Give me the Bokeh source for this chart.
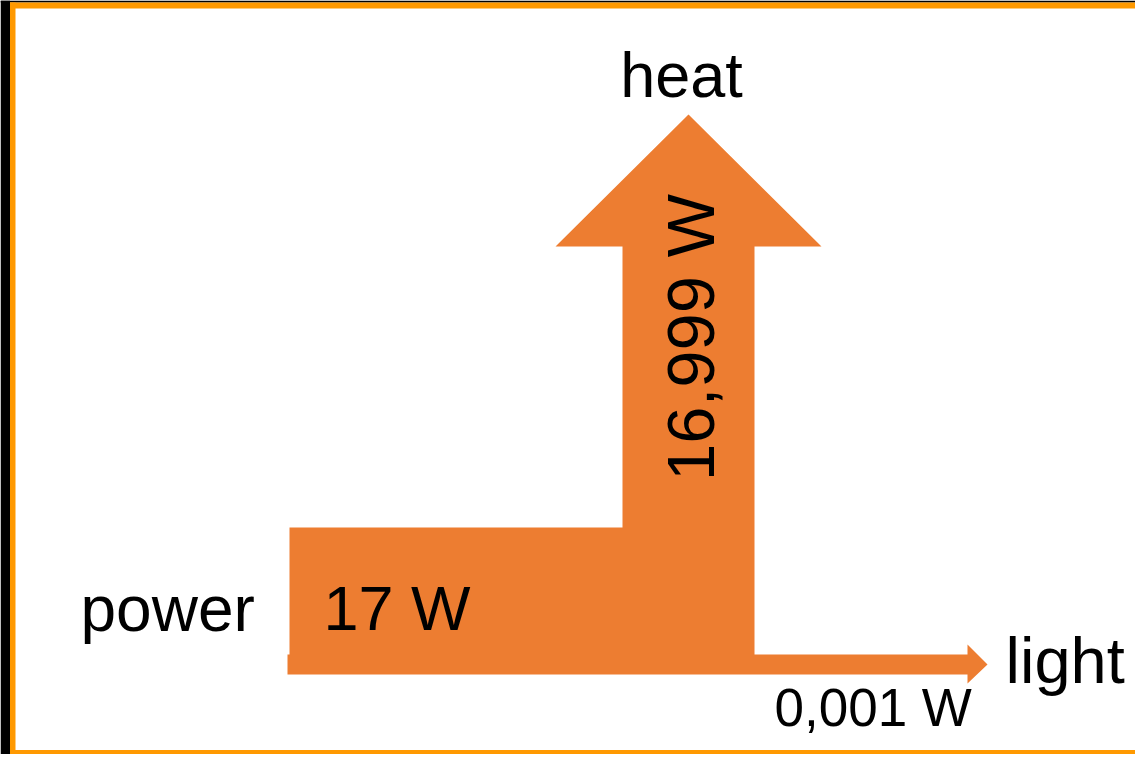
from math import pi
from bokeh.plotting import figure
from bokeh.models import Range1d, ColumnDataSource
from bokeh.core.properties import value
from bokeh.embed import file_html
from bokeh.resources import INLINE

# ---- data ----
nodes = ["power", "heat", "light"]
flow_labels = ["17 W", "16,999 W", "0,001 W"]
flow_watts = [17, 16.999, 0.001]

# ---- layout (reference pixel coordinates) ----
W, H = 1135, 754


def Y(py):
    return H - py


p = figure(width=W, height=H, x_range=Range1d(0, W), y_range=Range1d(0, H),
           output_backend="svg", toolbar_location=None, min_border=0,
           x_axis_location=None, y_axis_location=None)
p.grid.visible = False
p.outline_line_color = None
p.background_fill_color = "white"
p.border_fill_color = "white"

# frame decoration
p.quad(left=[0], right=[9.5], bottom=[0], top=[H], fill_color="black", line_color=None)
p.quad(left=[0], right=[W], bottom=[Y(2)], top=[H], fill_color="black", line_color=None)
p.quad(left=[9.5], right=[15], bottom=[0], top=[Y(2)], fill_color="#FF9900", line_color=None)
p.quad(left=[9.5], right=[W], bottom=[Y(8)], top=[Y(2)], fill_color="#FF9900", line_color=None)
p.quad(left=[9.5], right=[W], bottom=[0], top=[Y(749.5)], fill_color="#FF9900", line_color=None)

# Sankey-like arrow shape
shape_px = [(289, 527), (622, 527), (622, 246), (555, 246), (688, 114), (821, 246),
            (754, 246), (754, 654), (967, 654), (967, 644), (987, 664), (967, 683),
            (967, 674), (287, 674), (287, 654), (289, 654)]
p.patch(x=[q[0] for q in shape_px], y=[Y(q[1]) for q in shape_px],
        fill_color="#ED7D31", line_color=None)

font = value("Liberation Sans")

# node names
node_src = ColumnDataSource(dict(
    x=[80, 681, 1005], y=[Y(608), Y(74), Y(660)], text=nodes,
    align=["left", "center", "left"], size=["64px", "63px", "65px"]))
p.text(x="x", y="y", text="text", source=node_src, text_align="align",
       text_baseline="alphabetic", text_font=font, text_font_size="size",
       text_color="black")

# flow values
p.text(x=[323], y=[Y(607)], text=[flow_labels[0]], text_align="left",
       text_baseline="alphabetic", text_font=font, text_font_size="63px", text_color="black")
p.text(x=[690], y=[Y(337)], text=[flow_labels[1]], angle=pi / 2, text_align="center",
       text_baseline="alphabetic", text_font=font, text_font_size="67px", text_color="black")
p.text(x=[774], y=[Y(707)], text=[flow_labels[2]], text_align="left",
       text_baseline="alphabetic", text_font=font, text_font_size="53px", text_color="black")

open("out.html", "w").write(file_html(p, INLINE))
